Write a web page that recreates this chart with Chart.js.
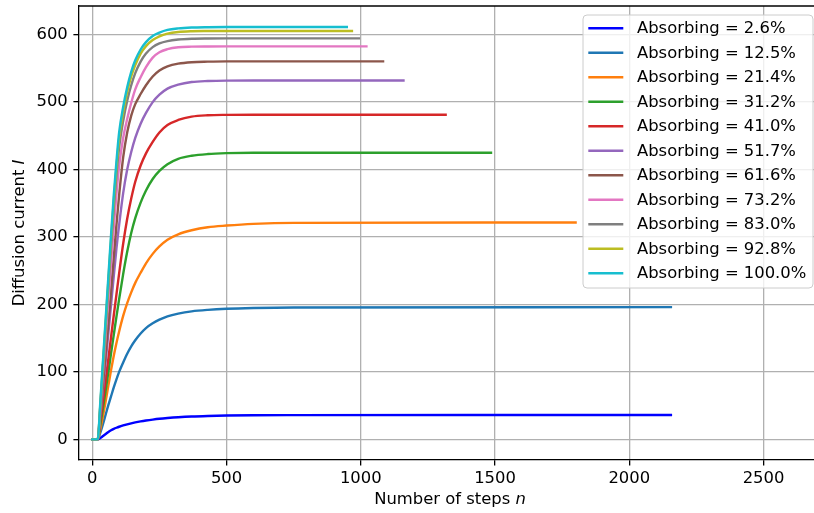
<!DOCTYPE html>
<html>
<head>
<meta charset="utf-8">
<script src="https://cdn.jsdelivr.net/npm/chart.js@4.4.0/dist/chart.umd.min.js"></script>
<style>
  html, body { margin: 0; padding: 0; overflow: hidden; background: #fff; }
  #wrap { width: 830px; height: 513px; }
</style>
</head>
<body>
<div id="wrap"><canvas id="chart" width="830" height="513" style="width:830px;height:513px"></canvas></div>
<script>
// -------- data --------
const steps = [0, 20, 30, 40, 50, 60, 70, 80, 90, 100, 115, 130, 145, 160, 180, 200, 225, 250, 280, 320, 370, 430, 500, 600, 750];

const labels = ["Absorbing = 2.6%", "Absorbing = 12.5%", "Absorbing = 21.4%", "Absorbing = 31.2%",
  "Absorbing = 41.0%", "Absorbing = 51.7%", "Absorbing = 61.6%", "Absorbing = 73.2%",
  "Absorbing = 83.0%", "Absorbing = 92.8%", "Absorbing = 100.0%"];

const colors = ["#0000ff", "#1f77b4", "#ff7f0e", "#2ca02c", "#d62728", "#9467bd",
  "#8c564b", "#e377c2", "#7f7f7f", "#bcbd22", "#17becf"];

// last step of every run and the current it ends on
const endSteps = [2155, 2155, 1800, 1485, 1316, 1159, 1083, 1021, 993, 967, 948];
const endValues = [36.2, 196, 321.5, 425, 481.3, 532, 560.4, 582.6, 594.5, 605.5, 611.3];

const abs026 = [0, 0, 2, 5, 8, 11, 13.5, 15.5, 17.2, 18.7, 20.6, 22.3, 23.8, 25.1, 26.6, 27.9, 29.3, 30.5, 31.6, 32.8, 33.9, 34.7, 35.3, 35.8, 36];
const abs125 = [0, 0, 10, 23, 37, 51, 64, 77, 89, 100, 114, 127, 138, 147, 157, 165, 172, 177.5, 182.5, 186.5, 189.8, 192, 193.6, 194.8, 195.6];
const abs214 = [0, 0, 15, 35, 57, 80, 103, 124, 143, 160, 183, 202, 218, 232, 247, 261, 275, 286, 296, 304, 310, 314.5, 317, 319.5, 321];
const abs312 = [0, 0, 22, 47, 73, 100, 128, 155, 182, 208, 245, 278, 306, 328, 351, 369, 386, 398, 408, 416, 420.5, 423, 424.3, 425, 425];
const abs410 = [0, 0, 28, 58, 89, 120, 152, 184, 215, 246, 290, 327, 357, 382, 406, 424, 441, 455, 466, 473.5, 478.5, 480.5, 481.1, 481.3, 481.3];
const abs517 = [0, 0, 36, 76, 116, 158, 200, 242, 283, 318, 365, 400, 426, 447, 468, 484, 500, 511, 520, 526, 529.8, 531.3, 531.9, 532, 532];
const abs616 = [0, 0, 40, 84, 128, 172, 220, 270, 318, 362, 418, 455, 480, 497, 512, 525, 538, 547, 553, 557, 559.2, 560, 560.4, 560.4, 560.4];
const abs732 = [0, 0, 46, 100, 155, 208, 262, 315, 364, 405, 447, 475, 499, 519, 537, 552, 566, 574, 578.5, 581.3, 582.2, 582.5, 582.6, 582.6, 582.6];
const abs830 = [0, 0, 50, 108, 168, 228, 287, 343, 392, 433, 472, 502, 525, 543, 560, 572, 581.5, 587, 590.5, 592.8, 594, 594.4, 594.5, 594.5, 594.5];
const abs928 = [0, 0, 52, 113, 175, 236, 297, 354, 404, 446, 485, 515, 538, 555, 572, 583, 592, 597.5, 601.5, 604, 605.1, 605.4, 605.5, 605.5, 605.5];
const abs1000 = [0, 0, 56, 118, 180, 242, 304, 362, 412, 455, 493, 522, 545, 562, 578, 589, 598, 603, 607, 609.3, 610.6, 611.1, 611.3, 611.3, 611.3];

const seriesValues = [abs026, abs125, abs214, abs312, abs410, abs517, abs616, abs732, abs830, abs928, abs1000];

const xTicks = [0, 500, 1000, 1500, 2000, 2500];
const yTicks = [0, 100, 200, 300, 400, 500, 600];

// -------- build datasets --------
const datasets = seriesValues.map((vals, i) => {
  const pts = steps.map((s, k) => ({ x: s, y: vals[k] }));
  pts.push({ x: endSteps[i], y: endValues[i] });
  return {
    label: labels[i],
    data: pts,
    borderColor: colors[i],
    backgroundColor: colors[i],
    borderWidth: 2.4,
    pointRadius: 0,
    fill: false,
    cubicInterpolationMode: "monotone",
    borderCapStyle: "square",
    order: seriesValues.length - 1 - i   // later series drawn on top, like matplotlib
  };
});

const FONT = '"DejaVu Sans", sans-serif';
const FS = 16.4;

// -------- axis titles, top spine and legend --------
const decorations = {
  id: "decorations",
  afterDraw(chart) {
    const ctx = chart.ctx;
    const a = chart.chartArea;
    ctx.save();

    // top spine
    ctx.strokeStyle = "#000";
    ctx.lineWidth = 1.3;
    ctx.beginPath();
    ctx.moveTo(a.left - 0.65, a.top);
    ctx.lineTo(a.right, a.top);
    ctx.stroke();

    // axis titles with italic symbols
    function mixed(parts, cx, cy, rot) {
      ctx.save();
      ctx.translate(cx, cy);
      ctx.rotate(rot);
      let w = 0;
      parts.forEach(p => { ctx.font = p[1] + FS + "px " + FONT; w += ctx.measureText(p[0]).width; });
      let x = -w / 2;
      ctx.fillStyle = "#000";
      ctx.textBaseline = "middle";
      ctx.textAlign = "left";
      parts.forEach(p => {
        ctx.font = p[1] + FS + "px " + FONT;
        ctx.fillText(p[0], x, 0);
        x += ctx.measureText(p[0]).width;
      });
      ctx.restore();
    }
    mixed([["Number of steps ", ""], ["n", "italic "]], 450, 500, 0);
    mixed([["Diffusion current ", ""], ["I", "italic "]], 20, 233, -Math.PI / 2);

    // legend box
    const lx = 583, ly = 15, lw = 230, lh = 273, r = 4;
    ctx.beginPath();
    ctx.moveTo(lx + r, ly);
    ctx.lineTo(lx + lw - r, ly);
    ctx.quadraticCurveTo(lx + lw, ly, lx + lw, ly + r);
    ctx.lineTo(lx + lw, ly + lh - r);
    ctx.quadraticCurveTo(lx + lw, ly + lh, lx + lw - r, ly + lh);
    ctx.lineTo(lx + r, ly + lh);
    ctx.quadraticCurveTo(lx, ly + lh, lx, ly + lh - r);
    ctx.lineTo(lx, ly + r);
    ctx.quadraticCurveTo(lx, ly, lx + r, ly);
    ctx.closePath();
    ctx.fillStyle = "rgba(255,255,255,0.8)";
    ctx.fill();
    ctx.strokeStyle = "#cccccc";
    ctx.lineWidth = 1;
    ctx.stroke();

    ctx.font = FS + "px " + FONT;
    ctx.textBaseline = "middle";
    ctx.textAlign = "left";
    labels.forEach((lab, i) => {
      const y = 28.3 + i * 24.5;
      ctx.strokeStyle = colors[i];
      ctx.lineWidth = 2.4;
      ctx.beginPath();
      ctx.moveTo(588.3, y);
      ctx.lineTo(623.3, y);
      ctx.stroke();
      ctx.fillStyle = "#000";
      ctx.fillText(lab, 637, y + 0.5);
    });
    ctx.restore();
  }
};

function noPad(s) {
  s.paddingTop = 0; s.paddingBottom = 0; s.paddingLeft = 0; s.paddingRight = 0;
}

new Chart(document.getElementById("chart"), {
  type: "line",
  data: { datasets: datasets },
  options: {
    responsive: false,
    animation: false,
    devicePixelRatio: 1,
    layout: { padding: { top: 6, right: 9, left: 0, bottom: 0 } },
    plugins: { legend: { display: false }, tooltip: { enabled: false } },
    scales: {
      x: {
        type: "linear",
        min: -49.5,
        max: 2714,
        afterBuildTicks: s => { s.ticks = xTicks.map(v => ({ value: v })); },
        afterFit: s => { s.height = 53; noPad(s); },
        grid: { color: "#b0b0b0", lineWidth: 1.3, tickColor: "#000", tickLength: 5.6, tickWidth: 1.3 },
        border: { color: "#000", width: 1.3 },
        ticks: {
          font: { family: FONT, size: FS },
          color: "#000",
          padding: 3,
          maxRotation: 0,
          autoSkip: false,
          callback: v => String(v)
        }
      },
      y: {
        type: "linear",
        min: -30.6,
        max: 642.5,
        afterBuildTicks: s => { s.ticks = yTicks.map(v => ({ value: v })); },
        afterFit: s => { s.width = 79; noPad(s); },
        grid: { color: "#b0b0b0", lineWidth: 1.3, tickColor: "#000", tickLength: 5.6, tickWidth: 1.3 },
        border: { color: "#000", width: 1.3 },
        ticks: {
          font: { family: FONT, size: FS },
          color: "#000",
          padding: 5.6,
          autoSkip: false,
          callback: v => String(v)
        }
      }
    }
  },
  plugins: [decorations]
});
</script>
</body>
</html>
